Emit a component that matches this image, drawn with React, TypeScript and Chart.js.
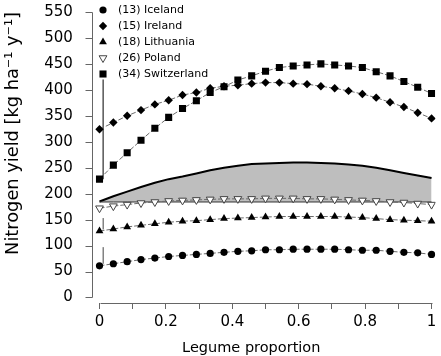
import React, { useEffect, useRef } from 'react';
import { Chart, registerables } from 'chart.js';

Chart.register(...registerables);

// ---------- data ----------
const legumeProportion = [
  0, 0.0417, 0.0833, 0.125, 0.1667, 0.2083, 0.25, 0.2917, 0.3333, 0.375, 0.4167, 0.4583, 0.5,
  0.5417, 0.5833, 0.625, 0.6667, 0.7083, 0.75, 0.7917, 0.8333, 0.875, 0.9167, 0.9583, 1,
];

const iceland = [61, 65, 69, 73, 76, 79, 81, 83, 85, 87, 89, 90, 92, 92, 93, 93, 93, 93, 92, 91, 91, 89, 87, 86, 83];
const ireland = [324, 337, 350, 361, 372, 380, 390, 395, 403, 407, 409, 412, 414, 414, 412, 411, 407, 403, 398, 392, 385, 376, 367, 356, 345];
const lithuania = [128, 132, 136, 139, 142, 145, 147, 148, 150, 152, 153, 154, 155, 156, 156, 156, 156, 156, 155, 154, 152, 150, 149, 148, 147];
const poland = [172, 176, 179, 182, 184, 186, 187, 188, 189, 190, 190, 190, 191, 191, 191, 190, 190, 189, 188, 187, 186, 184, 183, 181, 179];
const switzerland = [228, 255, 279, 303, 326, 347, 364, 379, 395, 406, 419, 427, 436, 443, 446, 448, 450, 448, 446, 443, 435, 427, 416, 405, 393];

// shaded envelope above the Poland baseline
const envelopeTop = [185, 195, 204, 213, 221, 228, 233, 239, 245, 250, 254, 257, 258, 259, 260, 260, 259, 258, 256, 254, 250, 245, 240, 235, 230];
const envelopeBase = [184, 184, 184, 184, 184, 184, 184, 184, 184, 184, 184, 184, 184, 184, 184, 184, 184, 184, 184, 184, 184, 184, 184, 184, 184];

// short vertical strokes next to the first points
const stemX = [0.011, 0.011];
const switzerlandStem = [228, 420];
const lithuaniaStem = [131, 153];
const icelandStem = [65, 97];

const seriesLabels = ['(13) Iceland', '(15) Ireland', '(18) Lithuania', '(26) Poland', '(34) Switzerland'];

const xTickValues = [0, 0.1, 0.2, 0.3, 0.4, 0.5, 0.6, 0.7, 0.8, 0.9, 1];
const xTickLabels = ['0', '', '0.2', '', '0.4', '', '0.6', '', '0.8', '', '1'];
const yTickValues = [0, 50, 100, 150, 200, 250, 300, 350, 400, 450, 500, 550];
const yTickLabels = ['0', '50', '100', '150', '200', '250', '300', '350', '400', '450', '500', '550'];

const X_MIN = -0.0979;
const X_MAX = 1.0119;
const Y_MIN = -10.6;
const Y_MAX = 550;
const Y_AXIS_AT = -0.0237;   // where the y axis line sits
const Y_LABELS_AT = -0.0801; // right edge of the y tick labels

const FONT = 'DejaVu Sans';

const pts = (ys: number[]) => legumeProportion.map((x, i) => ({ x, y: ys[i] }));
const stem = (ys: number[]) => stemX.map((x, i) => ({ x, y: ys[i] }));

type Marker = { style: string; r: number; fill: string; stroke: string; rot: number };
const markers: Marker[] = [
  { style: 'circle', r: 3.6, fill: '#000', stroke: '#000', rot: 0 },
  { style: 'diamond', r: 4.2, fill: '#000', stroke: '#000', rot: 0 },
  { style: 'triangle', r: 4.5, fill: '#000', stroke: '#000', rot: 0 },
  { style: 'triangle', r: 4.5, fill: '#fff', stroke: '#444', rot: 180 },
  { style: 'square', r: 5, fill: '#000', stroke: '#000', rot: 0 },
];

function drawMarker(ctx: CanvasRenderingContext2D, m: Marker, x: number, y: number) {
  ctx.save();
  ctx.fillStyle = m.fill;
  ctx.strokeStyle = m.stroke;
  ctx.lineWidth = 1;
  ctx.beginPath();
  if (m.style === 'circle') {
    ctx.arc(x, y, m.r, 0, Math.PI * 2);
  } else if (m.style === 'diamond') {
    ctx.moveTo(x, y - m.r);
    ctx.lineTo(x + m.r, y);
    ctx.lineTo(x, y + m.r);
    ctx.lineTo(x - m.r, y);
  } else if (m.style === 'square') {
    const s = m.r * Math.SQRT1_2;
    ctx.rect(x - s, y - s, 2 * s, 2 * s);
  } else {
    let a = (m.rot * Math.PI) / 180;
    ctx.moveTo(x + Math.sin(a) * m.r, y - Math.cos(a) * m.r);
    a += (2 * Math.PI) / 3;
    ctx.lineTo(x + Math.sin(a) * m.r, y - Math.cos(a) * m.r);
    a += (2 * Math.PI) / 3;
    ctx.lineTo(x + Math.sin(a) * m.r, y - Math.cos(a) * m.r);
  }
  ctx.closePath();
  ctx.fill();
  if (m.fill === '#fff') ctx.stroke();
  ctx.restore();
}

const axesPlugin = {
  id: 'rAxes',
  afterDraw(chart: any) {
    const { ctx, chartArea, scales } = chart;
    const xs = scales.x;
    const ys = scales.y;
    ctx.save();
    ctx.strokeStyle = '#666';
    ctx.lineWidth = 1;
    ctx.beginPath();
    const ax = Math.round(xs.getPixelForValue(Y_AXIS_AT)) + 0.5;
    ctx.moveTo(ax, Math.round(ys.getPixelForValue(yTickValues[0])) + 0.5);
    ctx.lineTo(ax, Math.round(ys.getPixelForValue(yTickValues[yTickValues.length - 1])) + 0.5);
    yTickValues.forEach((v) => {
      const py = Math.round(ys.getPixelForValue(v)) + 0.5;
      ctx.moveTo(ax - 7, py);
      ctx.lineTo(ax, py);
    });
    const by = Math.round(chartArea.bottom) + 0.5;
    ctx.moveTo(Math.round(xs.getPixelForValue(xTickValues[0])) + 0.5, by);
    ctx.lineTo(Math.round(xs.getPixelForValue(xTickValues[xTickValues.length - 1])) + 0.5, by);
    ctx.stroke();
    ctx.restore();
  },
};

const legendPlugin = {
  id: 'rLegend',
  afterDraw(chart: any) {
    const { ctx } = chart;
    const mx = 103;
    const tx = 118;
    const y0 = 10;
    const dy = 16;
    ctx.save();
    ctx.font = `11px "${FONT}"`;
    ctx.fillStyle = '#000';
    ctx.textBaseline = 'middle';
    ctx.textAlign = 'left';
    seriesLabels.forEach((label, i) => {
      const y = y0 + i * dy;
      drawMarker(ctx, markers[i], mx, y);
      ctx.fillStyle = '#000';
      ctx.fillText(label, tx, y);
    });
    ctx.restore();
  },
};

const connector = {
  borderColor: '#6a6a6a',
  borderWidth: 1,
  borderDash: [5, 2],
  tension: 0,
};

export default function App() {
  const ref = useRef<HTMLCanvasElement | null>(null);

  useEffect(() => {
    if (!ref.current) return;
    const styleFor = (m: Marker) => ({
      pointStyle: m.style === 'diamond' ? 'rectRot' : m.style === 'square' ? 'rect' : m.style,
      pointRadius: m.r,
      pointRotation: m.rot,
      pointBackgroundColor: m.fill,
      pointBorderColor: m.stroke,
      pointBorderWidth: m.fill === '#fff' ? 1 : 0,
    });
    const chart = new Chart(ref.current, {
      type: 'line',
      data: {
        datasets: [
          { label: seriesLabels[0], data: pts(iceland), ...connector, ...styleFor(markers[0]), order: 0 },
          { label: seriesLabels[1], data: pts(ireland), ...connector, ...styleFor(markers[1]), order: 0 },
          { label: seriesLabels[2], data: pts(lithuania), ...connector, ...styleFor(markers[2]), order: 0 },
          { label: seriesLabels[3], data: pts(poland), ...connector, ...styleFor(markers[3]), order: 0 },
          { label: seriesLabels[4], data: pts(switzerland), ...connector, ...styleFor(markers[4]), order: 0 },
          {
            label: 'envelope',
            data: pts(envelopeTop),
            borderColor: '#000',
            borderWidth: 2,
            backgroundColor: '#bebebe',
            pointRadius: 0,
            fill: 6,
            order: 10,
          } as any,
          {
            label: 'baseline',
            data: pts(envelopeBase),
            borderColor: '#333',
            borderWidth: 1,
            pointRadius: 0,
            fill: false,
            order: 9,
          },
          { label: 'stemCH', data: stem(switzerlandStem), borderColor: '#555', borderWidth: 1.5, pointRadius: 0, order: 5 },
          { label: 'stemLT', data: stem(lithuaniaStem), borderColor: '#444', borderWidth: 1, pointRadius: 0, order: 5 },
          { label: 'stemIS', data: stem(icelandStem), borderColor: '#444', borderWidth: 1, pointRadius: 0, order: 5 },
        ] as any,
      },
      options: {
        responsive: false,
        maintainAspectRatio: false,
        animation: false,
        events: [],
        devicePixelRatio: 1,
        layout: { padding: { left: 0, right: 0, top: 12, bottom: 0 } },
        plugins: {
          legend: { display: false },
          tooltip: { enabled: false },
          title: { display: false },
        },
        scales: {
          x: {
            type: 'linear',
            min: X_MIN,
            max: X_MAX,
            afterBuildTicks: (s: any) => {
              s.ticks = xTickValues.map((v) => ({ value: v }));
            },
            afterFit: (s: any) => {
              s.height = 53;
            },
            ticks: {
              autoSkip: false,
              maxRotation: 0,
              minRotation: 0,
              padding: 0,
              color: '#000',
              font: { family: FONT, size: 15, lineHeight: 1.69 },
              callback: (_v: any, i: number) => xTickLabels[i],
            },
            grid: { display: true, drawOnChartArea: false, drawTicks: true, tickLength: 6, color: '#666', lineWidth: 1 },
            border: { display: false },
            title: {
              display: true,
              text: 'Legume proportion',
              color: '#000',
              font: { family: FONT, size: 14.5, lineHeight: 1.1 },
              padding: { top: 0, bottom: 0 },
            },
          },
          y: {
            type: 'linear',
            position: { x: Y_LABELS_AT },
            min: Y_MIN,
            max: Y_MAX,
            afterBuildTicks: (s: any) => {
              s.ticks = yTickValues.map((v) => ({ value: v }));
            },
            ticks: {
              autoSkip: false,
              padding: 0,
              color: '#000',
              font: { family: FONT, size: 15 },
              callback: (_v: any, i: number) => yTickLabels[i],
            },
            grid: { display: false, drawTicks: false, tickLength: 0 },
            border: { display: false },
          },
          yTitle: {
            type: 'linear',
            position: 'left',
            axis: 'y',
            afterFit: (s: any) => {
              s.width = 67;
            },
            ticks: { display: false },
            grid: { display: false, drawTicks: false, tickLength: 0 },
            border: { display: false },
            title: {
              display: true,
              text: 'Nitrogen yield [kg ha⁻¹ y⁻¹]',
              align: 'end',
              color: '#000',
              font: { family: FONT, size: 17.8 },
              padding: { top: 3, bottom: 0 },
            },
          },
        },
      } as any,
      plugins: [axesPlugin, legendPlugin],
    });
    return () => chart.destroy();
  }, []);

  return (
    <div style={{ position: 'fixed', left: 0, top: 0, width: 441, height: 356, background: '#fff' }}>
      <canvas ref={ref} width={441} height={356} style={{ display: 'block', width: 441, height: 356 }} />
    </div>
  );
}
